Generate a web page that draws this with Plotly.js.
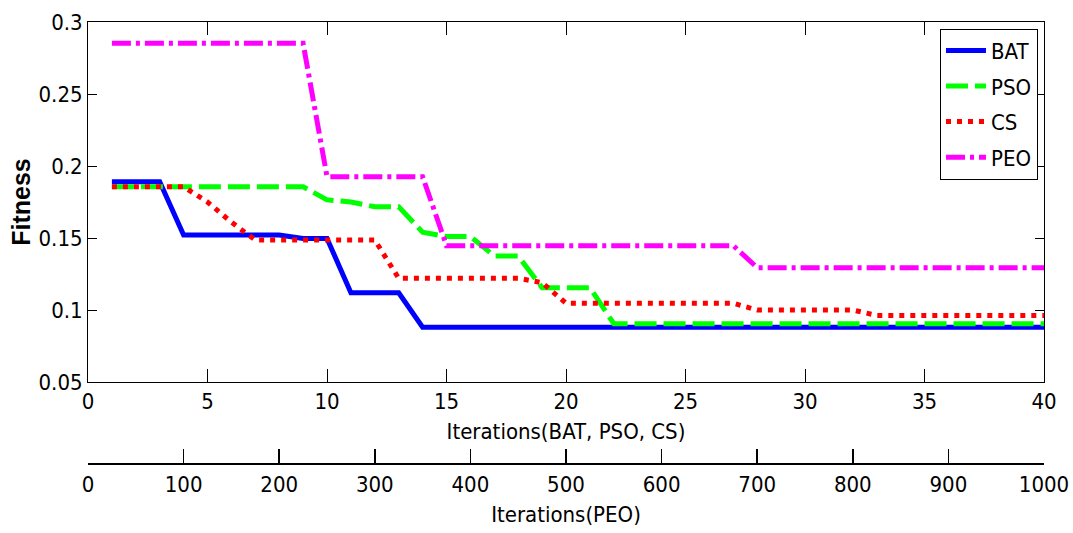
<!DOCTYPE html>
<html>
<head>
<meta charset="utf-8">
<script src="https://cdn.plot.ly/plotly-3.0.1.min.js"></script>
<style>html,body{margin:0;padding:0;background:#fff;}#chart{width:1073px;height:533px;}</style>
</head>
<body>
<div id="chart"></div>
<script>
// Iterations for BAT, PSO, CS (bottom axis 0-40)
const iters = [1,2,3,4,5,6,7,8,9,10,11,12,13,14,15,16,17,18,19,20,21,22,23,24,25,26,27,28,29,30,31,32,33,34,35,36,37,38,39,40];
// Iterations for PEO (second axis 0-1000)
const itersPEO = [25,50,75,100,125,150,175,200,225,250,275,300,325,350,375,400,425,450,475,500,525,550,575,600,625,650,675,700,725,750,775,800,825,850,875,900,925,950,975,1000];

const bat = [0.189,0.189,0.189,0.152,0.152,0.152,0.152,0.152,0.1497,0.1497,0.112,0.112,0.112,0.088,0.088,0.088,0.088,0.088,0.088,0.088,0.088,0.088,0.088,0.088,0.088,0.088,0.088,0.088,0.088,0.088,0.088,0.088,0.088,0.088,0.088,0.088,0.088,0.088,0.088,0.088];
const pso = [0.1856,0.1856,0.1856,0.1856,0.1856,0.1856,0.1856,0.1856,0.1856,0.1765,0.175,0.1717,0.1717,0.154,0.151,0.151,0.1375,0.1375,0.1155,0.1155,0.1155,0.0905,0.0905,0.0905,0.0905,0.0905,0.0905,0.0905,0.0905,0.0905,0.0905,0.0905,0.0905,0.0905,0.0905,0.0905,0.0905,0.0905,0.0905,0.0905];
const cs  = [0.1856,0.1856,0.1856,0.1856,0.175,0.161,0.1486,0.1486,0.1486,0.1486,0.1486,0.1486,0.122,0.122,0.122,0.122,0.122,0.122,0.119,0.1047,0.1047,0.1047,0.1047,0.1047,0.1047,0.1047,0.1047,0.100,0.100,0.100,0.100,0.100,0.0962,0.0962,0.0962,0.0962,0.0962,0.0962,0.0962,0.0962];
const peo = [0.2852,0.2852,0.2852,0.2852,0.2852,0.2852,0.2852,0.2852,0.2852,0.1926,0.1926,0.1926,0.1926,0.1926,0.1447,0.1447,0.1447,0.1447,0.1447,0.1447,0.1447,0.1447,0.1447,0.1447,0.1447,0.1447,0.1447,0.1294,0.1294,0.1294,0.1294,0.1294,0.1294,0.1294,0.1294,0.1294,0.1294,0.1294,0.1294,0.1294];

const seriesNames = ['BAT','PSO','CS','PEO'];
const xTicks1 = [0,5,10,15,20,25,30,35,40];
const xTicks2 = [0,100,200,300,400,500,600,700,800,900,1000];
const yTicks = [0.05,0.1,0.15,0.2,0.25,0.3];

const narrow = '"Liberation Sans Narrow", "Arial Narrow", "DejaVu Sans Condensed", sans-serif';

const traces = [
  {x: iters, y: bat, name: seriesNames[0], mode: 'lines', legendgroup: 'a',
   line: {color: '#0000FF', width: 5, dash: 'solid'}},
  {x: iters, y: pso, name: seriesNames[1], mode: 'lines', legendgroup: 'b',
   line: {color: '#00FF00', width: 5, dash: '22px,7px'}},
  {x: iters, y: cs, name: seriesNames[2], mode: 'lines', legendgroup: 'c',
   line: {color: '#FF0000', width: 5, dash: '5px,6px'}},
  {x: itersPEO, y: peo, name: seriesNames[3], mode: 'lines', legendgroup: 'd', xaxis: 'x2',
   line: {color: '#FF00FF', width: 5, dash: '19px,5px,4px,5px'}}
];

const marginB = 40;
const paperH = 533 - 22 - marginB;
const yBottomFrac = (533 - marginB - 382) / paperH;
const axis2Pos = (533 - marginB - 463) / paperH;

const layout = {
  width: 1073, height: 533,
  margin: {l: 88, r: 29, t: 22, b: marginB},
  paper_bgcolor: '#fff', plot_bgcolor: '#fff',
  font: {family: narrow, size: 22, color: '#000'},
  showlegend: true,
  legend: {
    x: 0.9937, xanchor: 'right', y: 0.986, yanchor: 'top',
    bgcolor: '#fff', bordercolor: '#000', borderwidth: 1,
    font: {family: narrow, size: 22, color: '#000'},
    traceorder: 'grouped', tracegroupgap: 4, itemwidth: 40
  },
  xaxis: {
    range: [0, 40], tickvals: xTicks1, ticktext: xTicks1.map(String),
    ticks: 'inside', ticklen: 13, tickcolor: '#000', tickwidth: 1,
    showline: true, linecolor: '#000', linewidth: 1, mirror: 'ticks',
    showgrid: false, zeroline: false, anchor: 'y',
    title: {text: 'Iterations(BAT, PSO, CS)', font: {family: narrow, size: 22}, standoff: 10}
  },
  xaxis2: {
    range: [0, 1000], tickvals: xTicks2, ticktext: xTicks2.map(String),
    overlaying: 'x', anchor: 'free', position: axis2Pos, side: 'bottom',
    ticks: 'inside', ticklen: 14, tickcolor: '#000', tickwidth: 1.5,
    showline: true, linecolor: '#000', linewidth: 1.5,
    showgrid: false, zeroline: false, ticklabelstandoff: 1,
    title: {text: 'Iterations(PEO)', font: {family: narrow, size: 22}, standoff: 10}
  },
  yaxis: {
    domain: [yBottomFrac, 1],
    range: [0.05, 0.3], tickvals: yTicks, ticktext: ['0.05','0.1','0.15','0.2','0.25','0.3'],
    ticks: 'inside', ticklen: 9, tickcolor: '#000', tickwidth: 1,
    showline: true, linecolor: '#000', linewidth: 1, mirror: 'ticks',
    showgrid: false, zeroline: false,
    title: {text: 'Fitness', font: {family: '"Liberation Sans", Arial, sans-serif', size: 25, weight: 'bold'}, standoff: 0}
  }
};

Plotly.newPlot('chart', traces, layout, {displayModeBar: false, staticPlot: true});
</script>
</body>
</html>
